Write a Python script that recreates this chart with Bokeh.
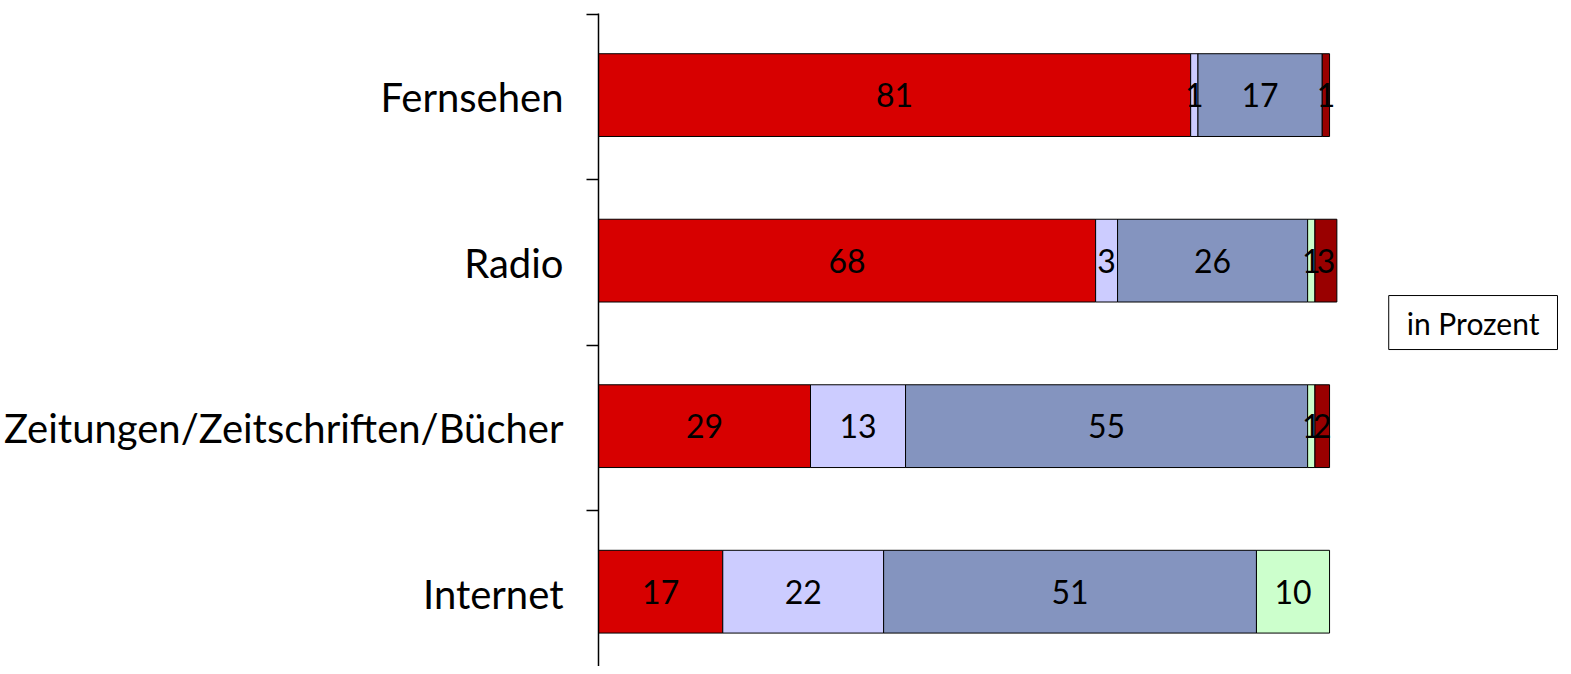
import numpy as np
from bokeh.plotting import figure
from bokeh.models import Range1d, FixedTicker, Label, ColumnDataSource
from bokeh.core.properties import value
from bokeh.embed import file_html
from bokeh.resources import INLINE

categories = ["Fernsehen", "Radio", "Zeitungen/Zeitschriften/Bücher", "Internet"]
s1 = [81, 68, 29, 17]
s2 = [1, 3, 13, 22]
s3 = [17, 26, 55, 51]
s4 = [0, 1, 1, 10]
s5 = [1, 3, 2, 0]
series = [s1, s2, s3, s4, s5]
colors = ["#D70000", "#CCCCFF", "#8494BF", "#CCFFCC", "#990000"]
note = "in Prozent"

FONT = "Lato"

p = figure(width=1563, height=666, output_backend="svg", toolbar_location=None,
           x_range=Range1d(0, 132.0), y_range=Range1d(3.94, -0.005),
           min_border_left=595, min_border_right=0, min_border_top=13, min_border_bottom=0)
p.outline_line_color = None
p.grid.visible = False
p.xaxis.visible = False

centers = np.arange(len(categories)) + 0.5 - 0.012
left = np.zeros(len(categories))
lab_x, lab_y, lab_t = [], [], []
for vals, col in zip(series, colors):
    v = np.array(vals, dtype=float)
    right = left + v
    mask = v > 0
    src = ColumnDataSource(dict(y=centers[mask], left=left[mask], right=right[mask]))
    p.hbar(y="y", left="left", right="right", height=0.5, source=src,
           fill_color=col, line_color="black", line_width=1)
    for i in np.where(mask)[0]:
        lab_x.append((left[i] + right[i]) / 2)
        lab_y.append(centers[i])
        lab_t.append(str(vals[i]))
    left = right

p.text(x=lab_x, y=lab_y, text=lab_t, text_align="center", text_baseline="middle",
       text_font=value(FONT), text_font_size="32px", text_color="black")

yax = p.yaxis[0]
yax.ticker = FixedTicker(ticks=list(np.arange(len(categories)) + 0.5),
                         minor_ticks=list(range(len(categories) + 1)))
yax.major_label_overrides = {float(i + 0.5): c for i, c in enumerate(categories)}
yax.major_tick_in = 0
yax.major_tick_out = 0
yax.minor_tick_in = 0
yax.minor_tick_out = 12
yax.minor_tick_line_color = "black"
yax.minor_tick_line_width = 1.5
yax.axis_line_color = "black"
yax.axis_line_width = 1.5
yax.major_label_standoff = 23
yax.major_label_text_font = FONT
yax.major_label_text_font_size = "40px"
yax.major_label_text_color = "black"

p.add_layout(Label(x=(1386 - 598) / 7.29, y=1.862, text=note, text_align="left",
                   text_baseline="middle", text_font=FONT, text_font_size="30px",
                   text_color="black", border_line_color="black", border_line_width=1,
                   background_fill_color="white", padding=(18, 9)))

open("out.html", "w").write(file_html(p, INLINE))
